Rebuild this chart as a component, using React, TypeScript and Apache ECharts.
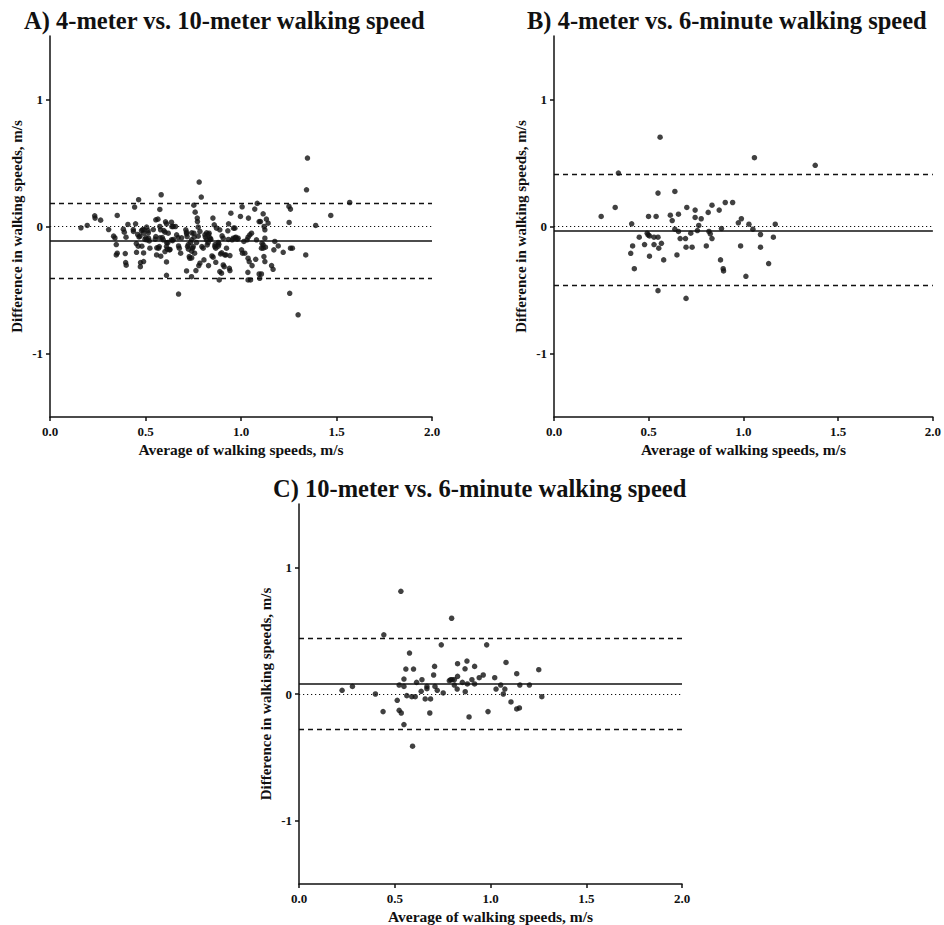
import React, { useEffect, useRef } from "react";
import * as echarts from "echarts";

const titles = [
  "A) 4-meter vs. 10-meter walking speed",
  "B) 4-meter vs. 6-minute walking speed",
  "C) 10-meter vs. 6-minute walking speed",
];
const xAxisName = "Average of walking speeds, m/s";
const yAxisName = "Difference in walking speeds, m/s";
const xTicks = [0, 0.5, 1.0, 1.5, 2.0];
const yTicks = [-1, 0, 1];

// [mean, upper limit, lower limit]
const limitsA = [-0.113, 0.176, -0.41];
const limitsB = [-0.026, 0.408, -0.463];
const limitsC = [0.081, 0.441, -0.281];

const pointsA: number[][] = [
  [0.162, -0.01], [0.195, 0.008], [0.234, 0.084], [0.236, 0.066], [0.265, 0.05], [0.307, -0.024],
  [0.333, -0.076], [0.34, -0.09], [0.347, -0.142], [0.352, 0.087], [0.347, -0.224], [0.352, -0.21],
  [0.384, -0.021], [0.389, -0.045], [0.398, -0.084], [0.394, -0.213], [0.396, -0.284], [0.399, -0.305],
  [0.408, 0.016], [0.436, -0.024], [0.437, -0.039], [0.443, 0.153], [0.448, 0.021], [0.452, -0.134],
  [0.453, -0.203], [0.464, 0.211], [0.459, -0.063], [0.466, -0.082], [0.474, -0.284], [0.473, -0.316],
  [0.479, -0.032], [0.485, -0.024], [0.49, -0.053], [0.493, -0.026], [0.481, -0.155], [0.49, -0.208],
  [0.49, -0.276], [0.502, -0.087], [0.507, -0.105], [0.506, -0.005], [0.513, -0.032], [0.52, -0.113],
  [0.516, -0.092], [0.523, -0.171], [0.551, -0.1], [0.554, -0.079], [0.554, 0.053], [0.565, 0.058],
  [0.558, -0.224], [0.568, -0.171], [0.572, -0.158], [0.575, 0.134], [0.575, 0.0], [0.579, -0.026],
  [0.58, -0.234], [0.582, 0.25], [0.588, -0.087], [0.593, -0.105], [0.596, -0.032], [0.602, -0.045],
  [0.602, -0.197], [0.605, 0.037], [0.61, 0.021], [0.61, -0.158], [0.614, -0.179], [0.61, -0.279],
  [0.61, -0.384], [0.617, -0.126], [0.619, -0.053], [0.626, -0.184], [0.636, 0.034], [0.638, 0.0],
  [0.645, 0.0], [0.636, -0.105], [0.642, -0.111], [0.657, 0.0], [0.663, -0.066], [0.671, -0.087],
  [0.673, -0.532], [0.673, -0.153], [0.677, -0.171], [0.684, -0.21], [0.689, -0.089], [0.711, -0.026],
  [0.715, -0.045], [0.715, -0.058], [0.718, -0.079], [0.715, -0.35], [0.72, -0.158], [0.725, -0.179],
  [0.729, -0.237], [0.732, -0.25], [0.736, -0.124], [0.741, -0.105], [0.741, -0.395], [0.746, -0.171],
  [0.75, -0.158], [0.753, 0.168], [0.753, -0.053], [0.755, -0.084], [0.757, -0.21], [0.76, 0.113],
  [0.764, -0.347], [0.767, -0.126], [0.771, 0.066], [0.772, 0.039], [0.776, -0.005], [0.779, -0.308],
  [0.785, -0.289], [0.781, 0.35], [0.785, -0.039], [0.792, 0.232], [0.795, -0.158], [0.802, -0.171],
  [0.806, -0.263], [0.811, -0.066], [0.814, -0.084], [0.819, -0.105], [0.823, -0.145], [0.828, -0.126],
  [0.83, -0.308], [0.833, -0.053], [0.837, -0.087], [0.842, -0.1], [0.848, -0.232], [0.854, -0.242],
  [0.853, 0.066], [0.86, 0.013], [0.863, -0.158], [0.868, -0.171], [0.868, -0.282], [0.872, -0.013],
  [0.881, -0.126], [0.884, -0.139], [0.886, -0.421], [0.889, -0.026], [0.889, -0.355], [0.898, -0.368],
  [0.893, -0.216], [0.901, -0.074], [0.907, -0.092], [0.907, -0.303], [0.912, -0.316], [0.915, -0.224],
  [0.921, -0.224], [0.924, -0.171], [0.931, -0.034], [0.935, 0.021], [0.939, -0.329], [0.942, -0.347],
  [0.942, -0.229], [0.947, 0.105], [0.954, -0.105], [0.959, -0.092], [0.961, -0.013], [0.968, -0.013],
  [0.973, -0.084], [0.98, -0.1], [0.985, -0.092], [0.997, 0.079], [1.003, -0.184], [1.008, -0.21],
  [1.006, 0.155], [1.015, -0.118], [1.02, -0.21], [1.032, -0.105], [1.037, -0.084], [1.039, 0.066],
  [1.037, -0.25], [1.043, -0.276], [1.036, -0.361], [1.037, -0.421], [1.05, -0.421], [1.046, -0.066],
  [1.055, -0.053], [1.058, -0.308], [1.072, 0.137], [1.077, -0.258], [1.081, -0.105], [1.085, 0.182],
  [1.095, 0.039], [1.102, 0.039], [1.095, -0.374], [1.107, -0.374], [1.098, -0.408], [1.107, -0.171],
  [1.116, -0.171], [1.11, -0.132], [1.116, -0.145], [1.116, 0.1], [1.121, 0.0], [1.125, -0.026],
  [1.12, -0.237], [1.125, -0.276], [1.125, -0.092], [1.128, -0.163], [1.133, 0.058], [1.142, 0.026],
  [1.16, -0.308], [1.168, -0.337], [1.172, -0.184], [1.177, -0.118], [1.195, -0.153], [1.221, -0.203],
  [1.251, 0.158], [1.259, 0.137], [1.252, 0.032], [1.255, -0.526], [1.259, -0.171], [1.269, -0.171],
  [1.299, -0.695], [1.339, -0.224], [1.343, 0.289], [1.348, 0.539], [1.391, 0.008], [1.47, 0.087],
  [1.569, 0.189],
  [0.724, -0.142], [0.742, -0.194], [0.742, -0.247], [0.776, -0.076], [0.82, -0.05], [0.838, -0.102],
  [0.864, -0.142], [0.881, -0.155], [0.899, -0.207], [0.934, -0.102], [0.969, -0.089], [0.742, -0.05],
  [0.829, -0.063], [0.471, -0.076], [0.497, -0.102], [0.515, -0.05], [0.541, -0.024], [0.576, -0.089],
  [0.611, -0.128], [0.646, -0.102], [0.462, -0.155], [0.559, -0.168], [0.628, -0.181],
];

const pointsB: number[][] = [
  [0.249, 0.079], [0.323, 0.15], [0.34, 0.421], [0.41, 0.021], [0.405, -0.211], [0.415, -0.153],
  [0.424, -0.332], [0.45, -0.084], [0.478, -0.142], [0.492, -0.053], [0.497, -0.066], [0.499, 0.079],
  [0.504, -0.074], [0.504, -0.234], [0.528, -0.084], [0.528, -0.142], [0.539, 0.079], [0.549, 0.263],
  [0.549, -0.084], [0.549, -0.505], [0.553, -0.171], [0.56, 0.703], [0.567, -0.132], [0.579, -0.263],
  [0.614, 0.089], [0.624, 0.047], [0.638, 0.276], [0.638, -0.021], [0.649, -0.224], [0.657, 0.097],
  [0.657, -0.039], [0.666, -0.095], [0.694, -0.095], [0.697, -0.163], [0.701, 0.15], [0.697, -0.566],
  [0.722, -0.053], [0.729, -0.163], [0.745, 0.129], [0.745, 0.071], [0.757, -0.032], [0.764, 0.008],
  [0.777, 0.061], [0.804, -0.153], [0.814, 0.111], [0.818, -0.039], [0.825, -0.058], [0.834, 0.168],
  [0.834, -0.095], [0.872, 0.129], [0.879, -0.263], [0.884, -0.016], [0.893, -0.332], [0.895, -0.35],
  [0.904, 0.189], [0.943, 0.189], [0.973, 0.029], [0.985, -0.153], [0.989, 0.061], [1.013, -0.392],
  [1.029, 0.018], [1.05, -0.021], [1.058, 0.542], [1.09, -0.063], [1.09, -0.163], [1.133, -0.292],
  [1.158, -0.084], [1.168, 0.018], [1.379, 0.482],
];

const pointsC: number[][] = [
  [0.225, 0.029], [0.279, 0.06], [0.399, 0.0], [0.443, 0.467], [0.439, -0.139], [0.513, -0.05],
  [0.523, 0.071], [0.523, -0.129], [0.534, -0.15], [0.532, 0.811], [0.548, 0.118], [0.548, 0.06],
  [0.548, -0.241], [0.558, 0.197], [0.563, -0.013], [0.577, 0.323], [0.589, -0.021], [0.607, -0.021],
  [0.593, -0.412], [0.598, 0.197], [0.614, 0.092], [0.638, 0.021], [0.642, 0.113], [0.659, -0.039],
  [0.668, 0.06], [0.668, 0.042], [0.683, -0.15], [0.687, -0.039], [0.703, 0.15], [0.708, 0.218],
  [0.71, 0.06], [0.722, 0.029], [0.743, 0.388], [0.753, 0.008], [0.785, 0.105], [0.792, 0.113],
  [0.8, 0.113], [0.797, 0.598], [0.811, 0.071], [0.811, 0.113], [0.826, 0.039], [0.828, 0.239],
  [0.828, 0.139], [0.853, 0.092], [0.867, 0.199], [0.868, 0.018], [0.877, 0.26], [0.879, 0.079],
  [0.888, -0.181], [0.903, 0.113], [0.917, 0.218], [0.917, 0.079], [0.941, 0.129], [0.962, 0.15],
  [0.98, 0.388], [0.987, -0.139], [1.022, 0.129], [1.029, 0.039], [1.053, 0.071], [1.067, 0.0],
  [1.075, 0.039], [1.081, 0.249], [1.107, -0.063], [1.137, 0.16], [1.137, -0.118], [1.151, -0.11],
  [1.153, 0.071], [1.203, 0.071], [1.252, 0.192], [1.268, -0.021],
];

const FONT = "'Liberation Serif', 'Times New Roman', serif";
const INK = "#111";

export default function App() {
  const ref = useRef<HTMLDivElement>(null);
  useEffect(() => {
    if (!ref.current) return;
    const chart = echarts.init(ref.current, undefined, { renderer: "svg" });
    const grids = [
      { left: 50, top: 36, width: 382, height: 381 },
      { left: 554, top: 36, width: 382, height: 381 },
      { left: 299, top: 504, width: 383, height: 381 },
    ];
    const titlePos = [
      { left: 24, top: 8 },
      { left: 527, top: 8 },
      { left: 273, top: 476 },
    ];
    const allPoints = [pointsA, pointsB, pointsC];
    const allLimits = [limitsA, limitsB, limitsC];
    const option: any = {
      animation: false,
      backgroundColor: "#fff",
      title: titles.map((t, i) => ({
        text: t,
        left: titlePos[i].left,
        top: titlePos[i].top,
        padding: 0,
        textStyle: { fontFamily: FONT, fontWeight: "bold", fontSize: 24.5, color: INK },
      })),
      grid: grids.map((g) => ({ ...g, containLabel: false })),
      xAxis: grids.map((_, i) => ({
        type: "value",
        gridIndex: i,
        min: 0,
        max: 2,
        interval: 0.5,
        name: xAxisName,
        nameLocation: "middle",
        nameGap: 24,
        nameTextStyle: { fontFamily: FONT, fontWeight: "bold", fontSize: 15.5, color: INK },
        axisLine: { show: true, onZero: false, lineStyle: { color: INK, width: 1.5 } },
        axisTick: { show: true, length: 4, lineStyle: { color: INK, width: 1.5 } },
        axisLabel: {
          margin: 8,
          fontFamily: FONT,
          fontWeight: "bold",
          fontSize: 13,
          color: INK,
          formatter: (v: number) => (xTicks.indexOf(v) >= 0 ? v.toFixed(1) : ""),
        },
        splitLine: { show: false },
      })),
      yAxis: grids.map((_, i) => ({
        type: "value",
        gridIndex: i,
        min: -1.5,
        max: 1.5,
        name: yAxisName,
        nameLocation: "middle",
        nameGap: 26,
        nameTextStyle: { fontFamily: FONT, fontWeight: "bold", fontSize: 15, color: INK },
        axisLine: { show: true, onZero: false, lineStyle: { color: INK, width: 1.5 } },
        axisTick: { show: true, length: 4, customValues: yTicks, lineStyle: { color: INK, width: 1.5 } },
        axisLabel: {
          margin: 7,
          fontFamily: FONT,
          fontWeight: "bold",
          fontSize: 13,
          color: INK,
          customValues: yTicks,
          formatter: (v: number) => String(v),
        },
        splitLine: { show: false },
      })),
      series: allPoints.map((pts, i) => ({
        type: "scatter",
        xAxisIndex: i,
        yAxisIndex: i,
        data: pts,
        symbol: "circle",
        symbolSize: 5.5,
        itemStyle: { color: INK },
        z: 3,
        markLine: {
          silent: true,
          symbol: "none",
          label: { show: false },
          data: [
            { yAxis: 0, lineStyle: { type: [1.2, 2.8], color: INK, width: 1.2 } },
            { yAxis: allLimits[i][0], lineStyle: { type: "solid", color: INK, width: 1.5 } },
            { yAxis: allLimits[i][1], lineStyle: { type: [5, 4], color: INK, width: 1.3 } },
            { yAxis: allLimits[i][2], lineStyle: { type: [5, 4], color: INK, width: 1.3 } },
          ],
        },
      })),
    };
    chart.setOption(option);
    return () => chart.dispose();
  }, []);
  return (
    <div
      ref={ref}
      style={{ position: "absolute", left: 0, top: 0, width: 944, height: 925, background: "#fff" }}
    />
  );
}
